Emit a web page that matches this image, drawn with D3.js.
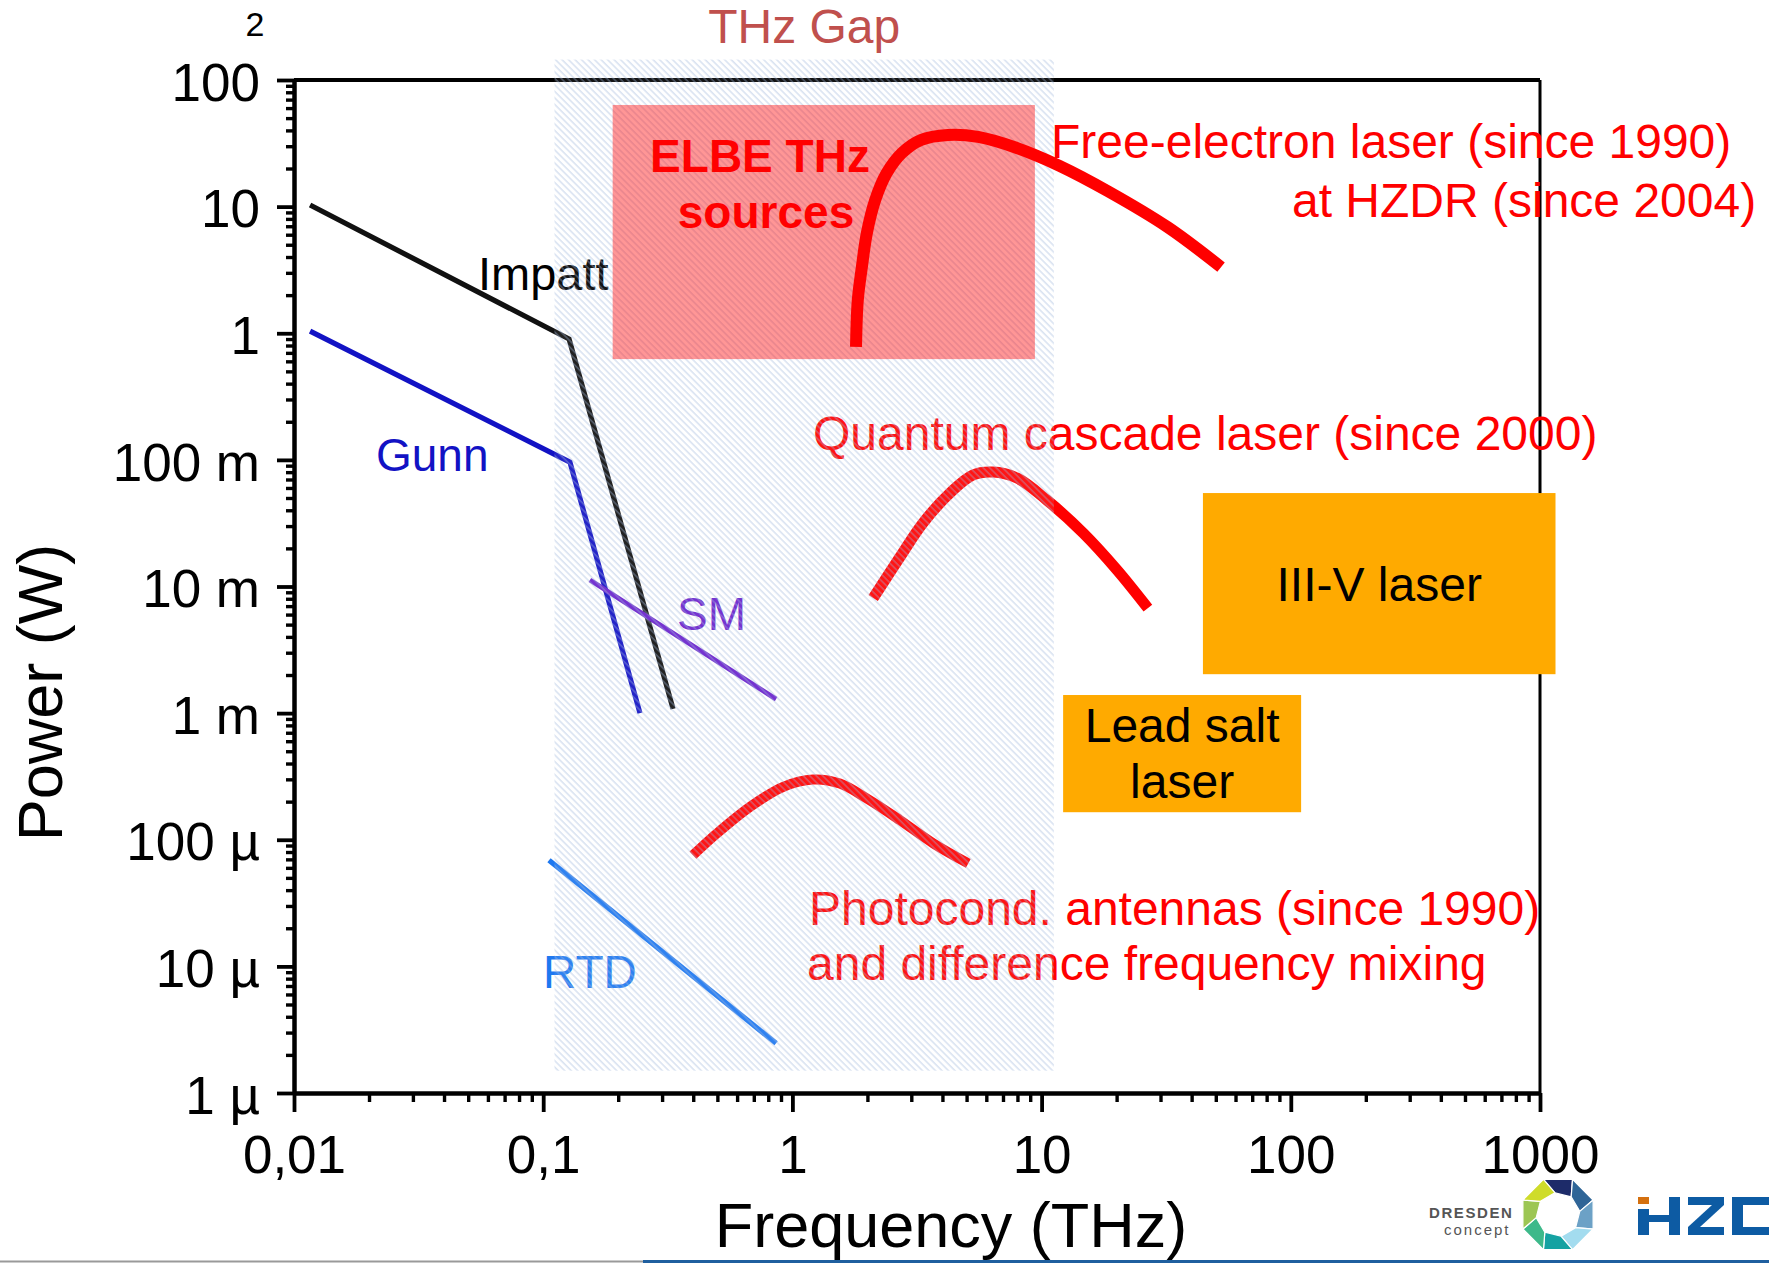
<!DOCTYPE html>
<html><head><meta charset="utf-8">
<script src="https://cdn.jsdelivr.net/npm/d3@7"></script>
<style>html,body{margin:0;padding:0;background:#fff;} svg{display:block;}</style>
</head><body>
<script>
// ---------- data (frequency in THz, power in W) ----------
const xTickValues = [0.01, 0.1, 1, 10, 100, 1000];
const xTickLabels = ["0,01", "0,1", "1", "10", "100", "1000"];
const yTickValues = [100, 10, 1, 0.1, 0.01, 0.001, 1e-4, 1e-5, 1e-6];
const yTickLabels = ["100", "10", "1", "100 m", "10 m", "1 m", "100 µ", "10 µ", "1 µ"];

const impattFreq = [0.0116, 0.127, 0.332];
const impattPower = [10.3, 0.90, 1.08e-3];
const gunnFreq = [0.0116, 0.128, 0.2445];
const gunnPower = [1.04, 0.096, 1.0e-3];
const smFreq = [0.154, 0.86];
const smPower = [0.01125, 1.29e-3];
const rtdFreq = [0.1055, 0.86];
const rtdPower = [6.9e-5, 2.47e-6];

const felFreq = [1.80, 1.83, 1.90, 1.99, 2.15, 2.39, 2.75, 3.28, 4.21, 5.56, 7.97, 11.8, 18.5, 32.0, 52.5];
const felPower = [0.78, 1.83, 3.33, 6.19, 11.3, 18.4, 26.5, 33.6, 36.8, 35.5, 29.0, 21.0, 13.2, 6.9, 3.33];
const qclFreq = [2.11, 2.70, 3.34, 4.29, 5.30, 6.38, 7.97, 10.5, 14.7, 20.1, 26.7];
const qclPower = [8.1e-3, 0.01707, 0.0317, 0.0547, 0.0759, 0.0801, 0.0718, 0.0481, 0.0264, 0.01348, 6.75e-3];
const pcFreq = [0.399, 0.497, 0.676, 0.919, 1.21, 1.55, 1.99, 2.70, 3.68, 5.08];
const pcPower = [7.55e-5, 1.12e-4, 1.82e-4, 2.62e-4, 2.99e-4, 2.78e-4, 2.12e-4, 1.43e-4, 9.35e-5, 6.5e-5];

const gapFreq = [0.111, 11.2];
const gapPower = [145, 1.5e-6];
const elbeFreq = [0.19, 9.4];
const elbePower = [63.5, 0.625];
const iiiVFreq = [44.4, 1154];
const iiiVPower = [0.0547, 2.03e-3];
const leadSaltFreq = [12.2, 110];
const leadSaltPower = [1.39e-3, 1.65e-4];

// ---------- setup ----------
const W = 1769, H = 1263;
const FONT = "'Liberation Sans', Arial, Helvetica, sans-serif";
const x = d3.scaleLog().domain([0.01, 1000]).range([294, 1540]);
const y = d3.scaleLog().domain([1e-6, 100]).range([1093, 80]);

const svg = d3.select("body").append("svg").attr("width", W).attr("height", H)
  .style("font-family", FONT);
svg.append("rect").attr("width", W).attr("height", H).attr("fill", "#fff");

const defs = svg.append("defs");
const pat = defs.append("pattern").attr("id", "hatch").attr("patternUnits", "userSpaceOnUse")
  .attr("width", 4.6).attr("height", 4.6).attr("patternTransform", "rotate(-45)");
pat.append("line").attr("x1", 1).attr("y1", -1).attr("x2", 1).attr("y2", 6)
  .attr("stroke", "#9fb6da").attr("stroke-width", 1.15).attr("stroke-opacity", 0.55);

const line = d3.line().x(d => x(d[0])).y(d => y(d[1]));
const smooth = d3.line().x(d => x(d[0])).y(d => y(d[1])).curve(d3.curveCatmullRom.alpha(0.5));

// ---------- axes ----------
const minorVals = (lo, hi) => {
  const out = [];
  for (let e = lo; e < hi; e++) for (let k = 2; k <= 9; k++) out.push(k * Math.pow(10, e));
  return out;
};
const axG = svg.append("g");
axG.append("g").attr("transform", `translate(${x(0.01)},0)`)
  .call(d3.axisLeft(y).tickValues(minorVals(-6, 2)).tickFormat("").tickSize(8).tickSizeOuter(0))
  .call(g => g.select(".domain").remove())
  .call(g => g.selectAll("line").attr("stroke", "#000").attr("stroke-width", 3.4));
axG.append("g").attr("transform", `translate(${x(0.01)},0)`)
  .call(d3.axisLeft(y).tickValues(yTickValues).tickFormat((d, i) => yTickLabels[i]).tickSize(17).tickSizeOuter(0).tickPadding(17))
  .call(g => g.select(".domain").attr("stroke", "#000").attr("stroke-width", 4.5))
  .call(g => g.selectAll("line").attr("stroke", "#000").attr("stroke-width", 3.8))
  .call(g => g.selectAll("text").attr("font-family", FONT).attr("font-size", 53).attr("fill", "#000").attr("dy", "0.38em"));
axG.append("g").attr("transform", `translate(0,${y(1e-6)})`)
  .call(d3.axisBottom(x).tickValues(minorVals(-2, 3)).tickFormat("").tickSize(9).tickSizeOuter(0))
  .call(g => g.select(".domain").remove())
  .call(g => g.selectAll("line").attr("stroke", "#000").attr("stroke-width", 3.4));
axG.append("g").attr("transform", `translate(0,${y(1e-6)})`)
  .call(d3.axisBottom(x).tickValues(xTickValues).tickFormat((d, i) => xTickLabels[i]).tickSize(19).tickSizeOuter(0).tickPadding(23))
  .call(g => g.select(".domain").attr("stroke", "#000").attr("stroke-width", 4.5))
  .call(g => g.selectAll("line").attr("stroke", "#000").attr("stroke-width", 3.8))
  .call(g => g.selectAll("text").attr("font-family", FONT).attr("font-size", 53).attr("fill", "#000"));
axG.append("line").attr("x1", x(0.01)).attr("x2", x(1000)).attr("y1", y(100)).attr("y2", y(100))
  .attr("stroke", "#000").attr("stroke-width", 4);
axG.append("line").attr("x1", x(1000)).attr("x2", x(1000)).attr("y1", y(100)).attr("y2", y(1e-6))
  .attr("stroke", "#000").attr("stroke-width", 3);

// axis titles
svg.append("text").attr("transform", `translate(62,${(y(100) + y(1e-6)) / 2 + 106}) rotate(-90)`)
  .attr("text-anchor", "middle").attr("font-size", 63).attr("fill", "#000").text("Power (W)");
svg.append("text").attr("x", 951).attr("y", 1247).attr("text-anchor", "middle")
  .attr("font-size", 63).attr("fill", "#000").text("Frequency (THz)");
svg.append("text").attr("x", 255).attr("y", 36).attr("text-anchor", "middle")
  .attr("font-size", 34).attr("fill", "#000").text("2");

// ---------- electronic sources ----------
const ser = svg.append("g").attr("fill", "none").attr("stroke-linecap", "butt");
ser.append("path").attr("d", line(d3.zip(impattFreq, impattPower))).attr("stroke", "#111").attr("stroke-width", 5.2);
ser.append("path").attr("d", line(d3.zip(gunnFreq, gunnPower))).attr("stroke", "#1212c4").attr("stroke-width", 5.2);
ser.append("path").attr("d", line(d3.zip(smFreq, smPower))).attr("stroke", "#6a22cc").attr("stroke-width", 4.8);
ser.append("path").attr("d", line(d3.zip(rtdFreq, rtdPower))).attr("stroke", "#1e78f0").attr("stroke-width", 5.2);

svg.append("text").attr("x", 478).attr("y", 290).attr("font-size", 47).attr("fill", "#000").text("Impatt");
svg.append("text").attr("x", 376).attr("y", 471).attr("font-size", 46).attr("fill", "#1212c4").text("Gunn");
svg.append("text").attr("x", 677).attr("y", 630).attr("font-size", 46).attr("fill", "#6a22cc").text("SM");
svg.append("text").attr("x", 543).attr("y", 988).attr("font-size", 46).attr("fill", "#1e78f0").text("RTD");

// ---------- optical sources ----------
ser.append("path").attr("d", smooth(d3.zip(qclFreq, qclPower))).attr("stroke", "#ff0000").attr("stroke-width", 11);
ser.append("path").attr("d", smooth(d3.zip(pcFreq, pcPower))).attr("stroke", "#ff0000").attr("stroke-width", 10);

const red = svg.append("g").attr("fill", "#ff0000").attr("font-size", 48);
red.append("text").attr("x", 1051).attr("y", 158).text("Free-electron laser (since 1990)");
red.append("text").attr("x", 1292).attr("y", 217).text("at HZDR (since 2004)");
red.append("text").attr("x", 813).attr("y", 450).text("Quantum cascade laser (since 2000)");
red.append("text").attr("x", 809).attr("y", 925).text("Photocond. antennas (since 1990)");
red.append("text").attr("x", 807).attr("y", 980).text("and difference frequency mixing");

// orange boxes
const orange = "#ffaa00";
svg.append("rect").attr("x", x(iiiVFreq[0])).attr("y", y(iiiVPower[0]))
  .attr("width", x(iiiVFreq[1]) - x(iiiVFreq[0])).attr("height", y(iiiVPower[1]) - y(iiiVPower[0])).attr("fill", orange);
svg.append("rect").attr("x", x(leadSaltFreq[0])).attr("y", y(leadSaltPower[0]))
  .attr("width", x(leadSaltFreq[1]) - x(leadSaltFreq[0])).attr("height", y(leadSaltPower[1]) - y(leadSaltPower[0])).attr("fill", orange);
svg.append("text").attr("x", (x(iiiVFreq[0]) + x(iiiVFreq[1])) / 2).attr("y", 601).attr("text-anchor", "middle")
  .attr("font-size", 48).attr("fill", "#000").text("III-V laser");
svg.append("text").attr("x", (x(leadSaltFreq[0]) + x(leadSaltFreq[1])) / 2).attr("y", 742).attr("text-anchor", "middle")
  .attr("font-size", 48).attr("fill", "#000").text("Lead salt");
svg.append("text").attr("x", (x(leadSaltFreq[0]) + x(leadSaltFreq[1])) / 2).attr("y", 798).attr("text-anchor", "middle")
  .attr("font-size", 48).attr("fill", "#000").text("laser");

// ---------- THz gap hatch overlay ----------
svg.append("rect").attr("x", x(gapFreq[0])).attr("y", y(gapPower[0]))
  .attr("width", x(gapFreq[1]) - x(gapFreq[0])).attr("height", y(gapPower[1]) - y(gapPower[0]))
  .attr("fill", "#ffffff").attr("fill-opacity", 0.08);
svg.append("rect").attr("x", x(gapFreq[0])).attr("y", y(gapPower[0]))
  .attr("width", x(gapFreq[1]) - x(gapFreq[0])).attr("height", y(gapPower[1]) - y(gapPower[0]))
  .attr("fill", "url(#hatch)");
svg.append("text").attr("x", (x(gapFreq[0]) + x(gapFreq[1])) / 2).attr("y", 43).attr("text-anchor", "middle")
  .attr("font-size", 48).attr("fill", "#c0504d").text("THz Gap");

// ELBE box
svg.append("rect").attr("x", x(elbeFreq[0])).attr("y", y(elbePower[0]))
  .attr("width", x(elbeFreq[1]) - x(elbeFreq[0])).attr("height", y(elbePower[1]) - y(elbePower[0]))
  .attr("fill", "#ff0000").attr("fill-opacity", 0.41);
svg.append("path").attr("d", smooth(d3.zip(felFreq, felPower))).attr("fill", "none")
  .attr("stroke", "#ff0000").attr("stroke-width", 12).attr("stroke-linecap", "butt");
svg.append("text").attr("x", 760).attr("y", 172).attr("text-anchor", "middle").attr("font-size", 46)
  .attr("font-weight", "bold").attr("fill", "#ff0000").text("ELBE THz");
svg.append("text").attr("x", 766).attr("y", 228).attr("text-anchor", "middle").attr("font-size", 46)
  .attr("font-weight", "bold").attr("fill", "#ff0000").text("sources");

// ---------- footer logos ----------
const foot = svg.append("g");
foot.append("line").attr("x1", 0).attr("x2", 643).attr("y1", 1261.5).attr("y2", 1261.5).attr("stroke", "#9a9a9a").attr("stroke-width", 2);
foot.append("line").attr("x1", 643).attr("x2", W).attr("y1", 1261.5).attr("y2", 1261.5).attr("stroke", "#1f5f9f").attr("stroke-width", 3);
foot.append("text").attr("x", 1429).attr("y", 1218).attr("font-size", 15).attr("font-weight", "bold")
  .attr("letter-spacing", 1.6).attr("fill", "#555").text("DRESDEN");
foot.append("text").attr("x", 1444).attr("y", 1235).attr("font-size", 15)
  .attr("letter-spacing", 2).attr("fill", "#555").text("concept");
const ringColors = ["#1d2b69", "#2f6597", "#6ca1c6", "#a3dcef", "#15a2a2", "#3db98a", "#9cc653", "#cfdc2a"];
const cx = 1558, cy = 1214.5, R = 38, r = 22;
ringColors.forEach((c, i) => {
  const a0 = (-112.5 + 45 * i) * Math.PI / 180, a1 = (-112.5 + 45 * (i + 1)) * Math.PI / 180;
  const p = [[cx + R * Math.cos(a0), cy + R * Math.sin(a0)], [cx + R * Math.cos(a1), cy + R * Math.sin(a1)],
    [cx + r * Math.cos(a1 + 0.25), cy + r * Math.sin(a1 + 0.25)], [cx + r * Math.cos(a0 + 0.25), cy + r * Math.sin(a0 + 0.25)]];
  foot.append("polygon").attr("points", p.map(q => q.join(",")).join(" ")).attr("fill", c)
    .attr("stroke", "#fff").attr("stroke-width", 1.2);
});
const hz = "#0d5ba3";
foot.append("rect").attr("x", 1638).attr("y", 1197).attr("width", 11).attr("height", 7).attr("fill", "#d4700f");
foot.append("rect").attr("x", 1638).attr("y", 1209).attr("width", 11).attr("height", 26).attr("fill", hz);
foot.append("rect").attr("x", 1649).attr("y", 1215).attr("width", 21).attr("height", 7).attr("fill", hz);
foot.append("rect").attr("x", 1669).attr("y", 1197).attr("width", 11).attr("height", 38).attr("fill", hz);
foot.append("rect").attr("x", 1688).attr("y", 1197).attr("width", 36).attr("height", 8).attr("fill", hz);
foot.append("rect").attr("x", 1688).attr("y", 1227).attr("width", 36).attr("height", 8).attr("fill", hz);
foot.append("polygon").attr("points", "1712,1205 1724,1205 1700,1227 1688,1227").attr("fill", hz);
foot.append("rect").attr("x", 1732).attr("y", 1197).attr("width", 37).attr("height", 8).attr("fill", hz);
foot.append("rect").attr("x", 1732).attr("y", 1227).attr("width", 37).attr("height", 8).attr("fill", hz);
foot.append("rect").attr("x", 1732).attr("y", 1197).attr("width", 11).attr("height", 38).attr("fill", hz);
</script>
</body></html>
